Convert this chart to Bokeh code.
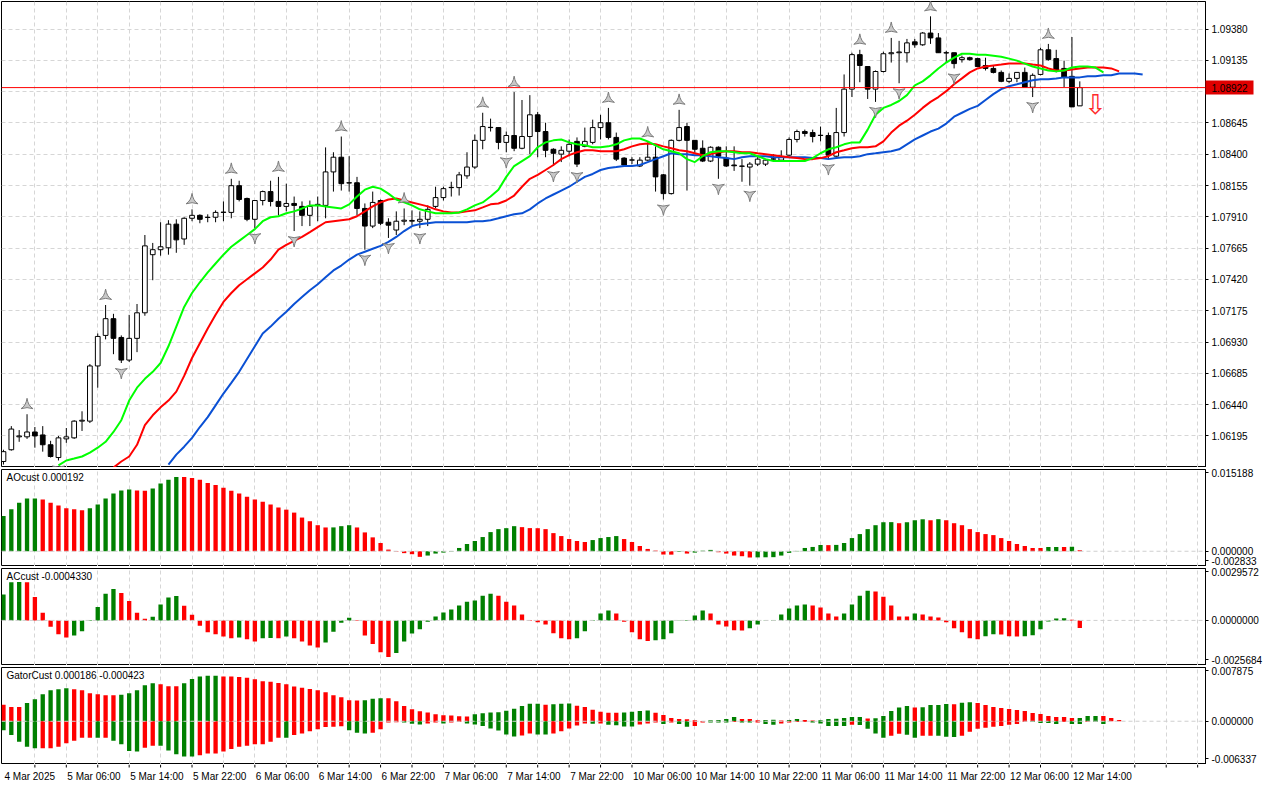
import numpy as np
from bokeh.plotting import figure
from bokeh.layouts import column
from bokeh.models import (Range1d, FixedTicker, Grid, Span,
                          CustomJSTickFormatter, PrintfTickFormatter)
from bokeh.core.properties import value
from bokeh.embed import file_html
from bokeh.resources import INLINE

# ---------------- price data (EURUSD H1) ----------------
OPEN = [1.05995, 1.06087, 1.06188, 1.06188, 1.06226, 1.06203, 1.06126, 1.06026, 1.06172, 1.06180,
        1.06311, 1.06311, 1.06743, 1.06982, 1.07113, 1.06966, 1.06789, 1.06959, 1.07159, 1.07614,
        1.07653, 1.07668, 1.07853, 1.07737, 1.07899, 1.07922, 1.07907, 1.07907, 1.07945, 1.07945,
        1.08154, 1.08054, 1.07891, 1.08038, 1.08108, 1.08031, 1.07992, 1.08015, 1.07992, 1.07922,
        1.08000, 1.08000, 1.08262, 1.08377, 1.08177, 1.08177, 1.07976, 1.07838, 1.08038, 1.07868,
        1.07807, 1.07876, 1.07876, 1.07876, 1.07891, 1.07992, 1.08061, 1.08139, 1.08139, 1.08231,
        1.08300, 1.08509, 1.08609, 1.08609, 1.08493, 1.08547, 1.08447, 1.08539, 1.08709, 1.08578,
        1.08439, 1.08401, 1.08424, 1.08501, 1.08462, 1.08493, 1.08609, 1.08647, 1.08532, 1.08370,
        1.08354, 1.08308, 1.08354, 1.08377, 1.08239, 1.08092, 1.08509, 1.08617, 1.08509, 1.08447,
        1.08347, 1.08455, 1.08370, 1.08316, 1.08308, 1.08300, 1.08323, 1.08323, 1.08362, 1.08354,
        1.08393, 1.08516, 1.08578, 1.08570, 1.08547, 1.08547, 1.08385, 1.08570, 1.08910, 1.09180,
        1.09087, 1.08910, 1.09048, 1.09187, 1.09195, 1.09195, 1.09280, 1.09257, 1.09349, 1.09311,
        1.09195, 1.09195, 1.09141, 1.09156, 1.09149, 1.09095, 1.09072, 1.09041, 1.08971, 1.08994,
        1.09041, 1.08925, 1.09025, 1.09218, 1.09149, 1.09072, 1.09010, 1.08779]
HIGH = [1.06087, 1.06272, 1.06241, 1.06365, 1.06265, 1.06272, 1.06157, 1.06195, 1.06257, 1.06318,
        1.06388, 1.06758, 1.06997, 1.07220, 1.07151, 1.06982, 1.07143, 1.07228, 1.07768, 1.07706,
        1.07868, 1.07884, 1.07891, 1.07907, 1.07969, 1.07930, 1.07930, 1.07961, 1.08031, 1.08208,
        1.08193, 1.08061, 1.08038, 1.08116, 1.08193, 1.08223, 1.08170, 1.08069, 1.08031, 1.08038,
        1.08069, 1.08454, 1.08416, 1.08539, 1.08385, 1.08223, 1.08015, 1.08108, 1.08046, 1.07899,
        1.07953, 1.07976, 1.07961, 1.07953, 1.08000, 1.08146, 1.08146, 1.08185, 1.08262, 1.08416,
        1.08555, 1.08725, 1.08679, 1.08609, 1.08578, 1.08887, 1.08825, 1.08863, 1.08732, 1.08647,
        1.08447, 1.08462, 1.08516, 1.08532, 1.08609, 1.08671, 1.08709, 1.08763, 1.08570, 1.08377,
        1.08377, 1.08377, 1.08493, 1.08462, 1.08246, 1.08516, 1.08748, 1.08647, 1.08509, 1.08509,
        1.08462, 1.08462, 1.08462, 1.08462, 1.08362, 1.08339, 1.08385, 1.08362, 1.08401, 1.08431,
        1.08532, 1.08593, 1.08593, 1.08593, 1.08617, 1.08570, 1.08763, 1.09025, 1.09195, 1.09218,
        1.09087, 1.09056, 1.09203, 1.09311, 1.09288, 1.09303, 1.09303, 1.09357, 1.09480, 1.09349,
        1.09210, 1.09195, 1.09172, 1.09164, 1.09156, 1.09156, 1.09095, 1.09056, 1.09033, 1.09041,
        1.09079, 1.09033, 1.09234, 1.09264, 1.09218, 1.09133, 1.09318, 1.08971]
LOW = [1.05971, 1.06080, 1.06149, 1.06172, 1.06103, 1.06072, 1.06026, 1.06003, 1.06141, 1.06172,
       1.06234, 1.06296, 1.06573, 1.06951, 1.06835, 1.06766, 1.06774, 1.06851, 1.07136, 1.07414,
       1.07606, 1.07614, 1.07629, 1.07691, 1.07876, 1.07860, 1.07868, 1.07868, 1.07876, 1.07899,
       1.08031, 1.07876, 1.07822, 1.08000, 1.07992, 1.07922, 1.07953, 1.07799, 1.07838, 1.07838,
       1.07876, 1.07899, 1.08108, 1.08116, 1.08108, 1.07922, 1.07653, 1.07822, 1.07845, 1.07745,
       1.07768, 1.07845, 1.07845, 1.07822, 1.07838, 1.07976, 1.08038, 1.08069, 1.08077, 1.08208,
       1.08285, 1.08439, 1.08578, 1.08439, 1.08416, 1.08424, 1.08439, 1.08401, 1.08377, 1.08377,
       1.08308, 1.08339, 1.08385, 1.08300, 1.08455, 1.08478, 1.08516, 1.08516, 1.08347, 1.08308,
       1.08323, 1.08300, 1.08347, 1.08108, 1.08046, 1.08085, 1.08501, 1.08116, 1.08401, 1.08339,
       1.08339, 1.08208, 1.08300, 1.08270, 1.08185, 1.08154, 1.08308, 1.08308, 1.08347, 1.08347,
       1.08385, 1.08493, 1.08539, 1.08493, 1.08501, 1.08362, 1.08377, 1.08539, 1.08848, 1.08964,
       1.08833, 1.08810, 1.09041, 1.09118, 1.08956, 1.09118, 1.09234, 1.09249, 1.09264, 1.09195,
       1.09118, 1.09072, 1.09118, 1.09133, 1.09087, 1.09056, 1.09033, 1.08964, 1.08956, 1.08964,
       1.08925, 1.08848, 1.09018, 1.09133, 1.09041, 1.08925, 1.08771, 1.08779]
CLOSE = [1.06072, 1.06249, 1.06195, 1.06226, 1.06195, 1.06126, 1.06034, 1.06180, 1.06188, 1.06311,
         1.06318, 1.06743, 1.06974, 1.07113, 1.06959, 1.06789, 1.06959, 1.07159, 1.07683, 1.07653,
         1.07676, 1.07853, 1.07730, 1.07899, 1.07922, 1.07891, 1.07905, 1.07945, 1.07947, 1.08154,
         1.08046, 1.07891, 1.08038, 1.08108, 1.08031, 1.07992, 1.08015, 1.08000, 1.07922, 1.07992,
         1.08008, 1.08262, 1.08377, 1.08170, 1.08175, 1.07976, 1.07838, 1.08023, 1.07860, 1.07845,
         1.07876, 1.07884, 1.07882, 1.07891, 1.07969, 1.08061, 1.08131, 1.08141, 1.08239, 1.08300,
         1.08509, 1.08617, 1.08611, 1.08493, 1.08547, 1.08447, 1.08539, 1.08709, 1.08578, 1.08431,
         1.08408, 1.08431, 1.08478, 1.08323, 1.08501, 1.08609, 1.08647, 1.08532, 1.08362, 1.08316,
         1.08356, 1.08354, 1.08377, 1.08223, 1.08092, 1.08509, 1.08609, 1.08509, 1.08439, 1.08347,
         1.08455, 1.08385, 1.08308, 1.08310, 1.08306, 1.08323, 1.08362, 1.08354, 1.08364, 1.08377,
         1.08516, 1.08578, 1.08563, 1.08539, 1.08549, 1.08393, 1.08570, 1.08910, 1.09180, 1.09095,
         1.08910, 1.09048, 1.09187, 1.09195, 1.09201, 1.09272, 1.09257, 1.09349, 1.09311, 1.09195,
         1.09193, 1.09110, 1.09156, 1.09141, 1.09087, 1.09072, 1.09041, 1.08971, 1.08994, 1.09041,
         1.08925, 1.09018, 1.09218, 1.09141, 1.09056, 1.09002, 1.08771, 1.08922]

# Alligator lines (already shifted forward: jaw 8, teeth 5, lips 3 bars)
JAW_START = 21
JAW = [1.05971, 1.06049, 1.06111, 1.06180, 1.06265, 1.06342, 1.06434, 1.06527, 1.06611, 1.06697,
       1.06797, 1.06897, 1.06997, 1.07051, 1.07113, 1.07167, 1.07228, 1.07282, 1.07336, 1.07383,
       1.07437, 1.07491, 1.07529, 1.07576, 1.07614, 1.07637, 1.07660, 1.07683, 1.07714, 1.07753,
       1.07799, 1.07838, 1.07853, 1.07860, 1.07868, 1.07868, 1.07868, 1.07868, 1.07868, 1.07876,
       1.07876, 1.07884, 1.07899, 1.07915, 1.07930, 1.07938, 1.07969, 1.08015, 1.08054, 1.08085,
       1.08116, 1.08146, 1.08185, 1.08223, 1.08246, 1.08277, 1.08293, 1.08300, 1.08308, 1.08308,
       1.08316, 1.08339, 1.08362, 1.08385, 1.08408, 1.08401, 1.08401, 1.08393, 1.08393, 1.08385,
       1.08377, 1.08370, 1.08362, 1.08377, 1.08385, 1.08385, 1.08385, 1.08377, 1.08377, 1.08377,
       1.08377, 1.08377, 1.08370, 1.08370, 1.08362, 1.08370, 1.08377, 1.08377, 1.08385, 1.08401,
       1.08408, 1.08416, 1.08424, 1.08439, 1.08478, 1.08516, 1.08547, 1.08578, 1.08601, 1.08640,
       1.08694, 1.08725, 1.08755, 1.08779, 1.08825, 1.08871, 1.08910, 1.08933, 1.08948, 1.08964,
       1.08979, 1.08987, 1.08987, 1.08994, 1.09002, 1.09002, 1.09002, 1.09010, 1.09010, 1.09018,
       1.09018, 1.09033, 1.09033, 1.09033, 1.09025]
TEETH_START = 14
TEETH = [1.05948, 1.05995, 1.06034, 1.06126, 1.06280, 1.06357, 1.06419, 1.06472, 1.06542, 1.06665,
         1.06805, 1.06920, 1.07036, 1.07143, 1.07244, 1.07314, 1.07375, 1.07422, 1.07468, 1.07514,
         1.07576, 1.07653, 1.07691, 1.07722, 1.07753, 1.07791, 1.07830, 1.07868, 1.07876, 1.07884,
         1.07891, 1.07915, 1.07953, 1.07992, 1.08023, 1.08046, 1.08054, 1.08038, 1.08023, 1.08008,
         1.07992, 1.07969, 1.07953, 1.07945, 1.07945, 1.07953, 1.07961, 1.07984, 1.08008, 1.08015,
         1.08038, 1.08077, 1.08146, 1.08208, 1.08239, 1.08277, 1.08316, 1.08362, 1.08393, 1.08416,
         1.08431, 1.08431, 1.08424, 1.08424, 1.08424, 1.08439, 1.08462, 1.08478, 1.08485, 1.08478,
         1.08462, 1.08447, 1.08431, 1.08424, 1.08408, 1.08393, 1.08401, 1.08416, 1.08424, 1.08424,
         1.08416, 1.08416, 1.08408, 1.08401, 1.08393, 1.08385, 1.08377, 1.08370, 1.08362, 1.08362,
         1.08370, 1.08385, 1.08416, 1.08431, 1.08447, 1.08455, 1.08455, 1.08462, 1.08501, 1.08570,
         1.08624, 1.08663, 1.08709, 1.08763, 1.08810, 1.08848, 1.08894, 1.08948, 1.08994, 1.09041,
         1.09072, 1.09087, 1.09095, 1.09102, 1.09110, 1.09110, 1.09110, 1.09102, 1.09095, 1.09072,
         1.09056, 1.09056, 1.09064, 1.09072, 1.09079, 1.09079, 1.09079, 1.09072, 1.09049]
LIPS_START = 7
LIPS = [1.05964, 1.06003, 1.06018, 1.06034, 1.06064, 1.06103, 1.06149, 1.06226, 1.06318, 1.06472,
        1.06573, 1.06642, 1.06697, 1.06766, 1.06897, 1.07051, 1.07205, 1.07314, 1.07398, 1.07475,
        1.07545, 1.07614, 1.07676, 1.07722, 1.07768, 1.07814, 1.07876, 1.07907, 1.07915, 1.07938,
        1.07953, 1.07976, 1.08000, 1.08000, 1.07992, 1.07984, 1.07976, 1.08008, 1.08069, 1.08123,
        1.08146, 1.08131, 1.08092, 1.08046, 1.08023, 1.08000, 1.07969, 1.07953, 1.07938, 1.07938,
        1.07938, 1.07945, 1.07969, 1.08000, 1.08023, 1.08069, 1.08123, 1.08223, 1.08308, 1.08347,
        1.08385, 1.08455, 1.08493, 1.08509, 1.08516, 1.08493, 1.08478, 1.08470, 1.08455, 1.08455,
        1.08462, 1.08478, 1.08509, 1.08524, 1.08524, 1.08501, 1.08470, 1.08439, 1.08424, 1.08408,
        1.08362, 1.08339, 1.08385, 1.08416, 1.08424, 1.08424, 1.08416, 1.08408, 1.08408, 1.08385,
        1.08362, 1.08347, 1.08347, 1.08347, 1.08347, 1.08347, 1.08370, 1.08408, 1.08439, 1.08455,
        1.08478, 1.08493, 1.08493, 1.08593, 1.08709, 1.08763, 1.08786, 1.08817, 1.08863, 1.08940,
        1.08971, 1.09018, 1.09072, 1.09118, 1.09156, 1.09187, 1.09187, 1.09180, 1.09180, 1.09172,
        1.09164, 1.09149, 1.09133, 1.09110, 1.09087, 1.09072, 1.09056, 1.09049, 1.09056, 1.09079,
        1.09087, 1.09087, 1.09079, 1.09041]

FRACTAL_UP = [3, 13, 24, 29, 35, 43, 51, 61, 65, 77, 82, 86, 109, 113, 118, 133]
FRACTAL_DOWN = [7, 15, 32, 37, 46, 49, 53, 64, 70, 73, 84, 91, 95, 105, 111, 114, 121, 131]
LAST_PRICE = 1.08922
SELL_SIGNAL_X = 139
SELL_SIGNAL_Y = 1.08910
PRICE_TICKS = [1.06195, 1.06440, 1.06685, 1.06930, 1.07175, 1.07420, 1.07665,
               1.07910, 1.08155, 1.08400, 1.08645, 1.08890, 1.09135, 1.09380]
PRICE_MIN, PRICE_MAX = 1.05948, 1.09596

# ---------------- AO ----------------
AO = [0.00657, 0.00778, 0.00902, 0.00981, 0.00982, 0.00962, 0.00902, 0.00852, 0.00797, 0.00778,
      0.00760, 0.00797, 0.00870, 0.00981, 0.01073, 0.01128, 0.01146, 0.01128, 0.01126, 0.01165,
      0.01257, 0.01330, 0.01380, 0.01378, 0.01362, 0.01330, 0.01270, 0.01233, 0.01178, 0.01122,
      0.01073, 0.01012, 0.00962, 0.00920, 0.00870, 0.00815, 0.00773, 0.00718, 0.00626, 0.00558,
      0.00484, 0.00442, 0.00443, 0.00466, 0.00484, 0.00442, 0.00350, 0.00258, 0.00153, 0.00031,
      -0.00008, -0.00035, -0.00055, -0.00104, -0.00080, -0.00043, -0.00025, -0.00008, 0.00061, 0.00135,
      0.00190, 0.00264, 0.00356, 0.00411, 0.00429, 0.00466, 0.00448, 0.00430, 0.00428, 0.00411,
      0.00337, 0.00282, 0.00227, 0.00190, 0.00172, 0.00208, 0.00245, 0.00264, 0.00282, 0.00227,
      0.00172, 0.00098, 0.00043, 0.00012, -0.00061, -0.00063, -0.00010, -0.00043, -0.00025, 0.00010,
      0.00025, -0.00018, -0.00043, -0.00080, -0.00092, -0.00116, -0.00114, -0.00112, -0.00110, -0.00080,
      -0.00030, 0.00006, 0.00061, 0.00080, 0.00116, 0.00114, 0.00118, 0.00153, 0.00245, 0.00319,
      0.00411, 0.00484, 0.00539, 0.00541, 0.00521, 0.00539, 0.00576, 0.00594, 0.00576, 0.00596,
      0.00576, 0.00521, 0.00484, 0.00411, 0.00356, 0.00319, 0.00300, 0.00245, 0.00190, 0.00135,
      0.00098, 0.00061, 0.00060, 0.00080, 0.00081, 0.00079, 0.00082, 0.00019]
AO_COLOR = ("ggggg" "rrrrrr" "gggggg" "rr" "gggg" "rrrrrrrrrrrrrrrrrrr" "ggg" "rrrrrrrrr"
            "gggggggggggg" "rrrrrrrrr" "gggg" "rrrrrrr" "g" "r" "ggg" "rrrrr" "ggggggggg" "r"
            "gggggggg" "r" "ggg" "r" "g" "rrrrrrrrrrrrr" "gg" "r" "g" "r")
AO_MIN, AO_MAX = -0.002833, 0.015188
AO_LABELS = ("0.015188", "0.000000", "-0.002833")
AO_TITLE = "AOcust 0.000192"

# ---------------- AC ----------------
AC = [0.00147, 0.00218, 0.00219, 0.00217, 0.00134, 0.00043, -0.00036, -0.00079, -0.00098, -0.00086,
      -0.00062, 0.00003, 0.00077, 0.00152, 0.00179, 0.00156, 0.00111, 0.00043, 0.00010, 0.00021,
      0.00090, 0.00130, 0.00139, 0.00083, 0.00032, -0.00030, -0.00068, -0.00079, -0.00092, -0.00101,
      -0.00098, -0.00107, -0.00120, -0.00101, -0.00100, -0.00102, -0.00092, -0.00101, -0.00120, -0.00143,
      -0.00154, -0.00126, -0.00064, -0.00013, 0.00015, -0.00004, -0.00086, -0.00135, -0.00182, -0.00209,
      -0.00186, -0.00120, -0.00075, -0.00051, -0.00008, 0.00023, 0.00045, 0.00062, 0.00085, 0.00107,
      0.00113, 0.00141, 0.00152, 0.00141, 0.00107, 0.00085, 0.00034, -0.00003, -0.00010, -0.00023,
      -0.00073, -0.00101, -0.00107, -0.00101, -0.00062, 0.00002, 0.00039, 0.00056, 0.00039, -0.00008,
      -0.00068, -0.00107, -0.00117, -0.00113, -0.00107, -0.00073, -0.00002, 0.00002, 0.00028, 0.00056,
      0.00039, -0.00023, -0.00034, -0.00056, -0.00057, -0.00045, -0.00023, 0.00001, 0.00003, 0.00034,
      0.00068, 0.00085, 0.00090, 0.00085, 0.00073, 0.00039, 0.00023, 0.00039, 0.00090, 0.00141,
      0.00169, 0.00164, 0.00135, 0.00085, 0.00023, 0.00022, 0.00039, 0.00034, 0.00023, 0.00017,
      -0.00011, -0.00045, -0.00068, -0.00101, -0.00107, -0.00090, -0.00079, -0.00080, -0.00090, -0.00091,
      -0.00090, -0.00085, -0.00051, -0.00006, 0.00011, 0.00012, 0.00004, -0.00043]
AC_COLOR = ("ggg" "rrrrrr" "gggggg" "rrrr" "gggg" "rrrrrrr" "g" "rr" "gg" "r" "g" "rrrr" "gggg"
            "rrrrr" "ggggggggggggg" "rrrrrrrrrr" "ggggg" "rrrrr" "ggggggg" "rrrrr" "gggggggg"
            "rrrr" "gggg" "rrrrr" "g" "rrrrrrrr" "gg" "rrr" "gggggg" "rr")
AC_MIN, AC_MAX = -0.0025684, 0.0029572
AC_LABELS = ("0.0029572", "0.0000000", "-0.0025684")
AC_TITLE = "ACcust -0.0004330"

# ---------------- Gator ----------------
GATOR_UP = [0.00242, 0.00208, 0.00207, 0.00266, 0.00324, 0.00396, 0.00454, 0.00469, 0.00483, 0.00469,
            0.00454, 0.00411, 0.00396, 0.00382, 0.00381, 0.00387, 0.00411, 0.00454, 0.00527, 0.00556,
            0.00541, 0.00512, 0.00511, 0.00556, 0.00619, 0.00657, 0.00667, 0.00668, 0.00657, 0.00656,
            0.00648, 0.00638, 0.00614, 0.00585, 0.00580, 0.00561, 0.00541, 0.00508, 0.00489, 0.00474,
            0.00454, 0.00425, 0.00382, 0.00353, 0.00309, 0.00305, 0.00309, 0.00329, 0.00338, 0.00337,
            0.00294, 0.00225, 0.00176, 0.00145, 0.00130, 0.00102, 0.00087, 0.00086, 0.00072, 0.00071,
            0.00102, 0.00116, 0.00130, 0.00131, 0.00155, 0.00184, 0.00222, 0.00257, 0.00258, 0.00242,
            0.00250, 0.00258, 0.00259, 0.00227, 0.00208, 0.00169, 0.00140, 0.00126, 0.00125, 0.00127,
            0.00140, 0.00150, 0.00156, 0.00126, 0.00092, 0.00048, 0.00034, 0.00029, 0.00015, 0.00005,
            0.00015, 0.00019, 0.00034, 0.00063, 0.00034, 0.00033, 0.00015, 0.00020, 0.00022, 0.00010,
            0.00019, 0.00034, 0.00019, 0.00010, 0.00015, 0.00034, 0.00035, 0.00048, 0.00063, 0.00064,
            0.00040, 0.00044, 0.00077, 0.00150, 0.00203, 0.00222, 0.00203, 0.00204, 0.00237, 0.00238,
            0.00251, 0.00250, 0.00271, 0.00280, 0.00266, 0.00237, 0.00208, 0.00193, 0.00179, 0.00164,
            0.00150, 0.00121, 0.00106, 0.00077, 0.00063, 0.00062, 0.00048, 0.00049, 0.00077, 0.00078,
            0.00077, 0.00048, 0.00019]
GATOR_UP_COLOR = ("rrr" "gggggg" "rrrrrr" "ggggg" "rrr" "ggggg" "rrrrrrrrrrrrrrrrrr" "ggg"
                  "rrrrrrrrrrr" "ggggggggg" "r" "ggg" "rrrrrr" "gggg" "rrrrrrr" "gggg" "rrr" "gg"
                  "r" "gg" "rr" "gggggg" "r" "ggggg" "r" "gggg" "r" "gg" "rrrrrrrrrrrrr" "ggg" "rrr")
GATOR_DN = [-0.00131, -0.00203, -0.00300, -0.00372, -0.00396, -0.00395, -0.00394, -0.00372, -0.00324, -0.00285,
            -0.00242, -0.00241, -0.00243, -0.00242, -0.00285, -0.00338, -0.00435, -0.00445, -0.00387, -0.00358,
            -0.00359, -0.00430, -0.00483, -0.00517, -0.00518, -0.00498, -0.00474, -0.00473, -0.00445, -0.00406,
            -0.00372, -0.00358, -0.00338, -0.00337, -0.00300, -0.00242, -0.00243, -0.00203, -0.00179, -0.00145,
            -0.00116, -0.00083, -0.00082, -0.00073, -0.00131, -0.00170, -0.00179, -0.00170, -0.00116, -0.00019,
            -0.00015, -0.00019, -0.00036, -0.00048, -0.00033, -0.00019, -0.00034, -0.00019, -0.00010, -0.00034,
            -0.00048, -0.00068, -0.00106, -0.00135, -0.00193, -0.00222, -0.00207, -0.00179, -0.00193, -0.00194,
            -0.00179, -0.00145, -0.00106, -0.00063, -0.00034, -0.00036, -0.00033, -0.00050, -0.00058, -0.00077,
            -0.00078, -0.00048, -0.00034, -0.00019, -0.00039, -0.00019, -0.00039, -0.00082, -0.00068, -0.00019,
            -0.00019, -0.00020, -0.00020, -0.00010, -0.00019, -0.00020, -0.00019, -0.00039, -0.00053, -0.00034,
            -0.00019, -0.00010, -0.00010, -0.00019, -0.00034, -0.00068, -0.00068, -0.00069, -0.00053, -0.00054,
            -0.00111, -0.00179, -0.00242, -0.00213, -0.00184, -0.00198, -0.00242, -0.00213, -0.00212, -0.00213,
            -0.00228, -0.00229, -0.00213, -0.00155, -0.00111, -0.00097, -0.00082, -0.00068, -0.00053, -0.00039,
            -0.00010, -0.00011, -0.00024, -0.00025, -0.00039, -0.00010, -0.00040, -0.00041, -0.00010, -0.00012,
            -0.00040, 0.0, 0.0]
GATOR_DN_COLOR = ("ggggg" "rrrrrrr" "g" "r" "gggg" "rr" "ggggg" "rrrrrrrrrrr" "g" "rrrrrrr" "ggg"
                  "rrrr" "ggg" "rr" "g" "rr" "ggggggg" "rr" "gg" "rrrrr" "g" "r" "gggg" "rrr" "g" "r"
                  "gg" "rr" "ggg" "r" "gg" "r" "gg" "rrrr" "ggggg" "r" "gggg" "rr" "gg" "rr" "ggg"
                  "rrrrrrrrr" "gggg" "r" "gg" "r" "gg" "rr")
GATOR_MIN, GATOR_MAX = -0.006337, 0.007875
GATOR_LABELS = ("0.007875", "0.000000", "-0.006337")
GATOR_TITLE = "GatorCust 0.000186 -0.000423"

TIME_LABELS = ["4 Mar 2025", "5 Mar 06:00", "5 Mar 14:00", "5 Mar 22:00", "6 Mar 06:00",
               "6 Mar 14:00", "6 Mar 22:00", "7 Mar 06:00", "7 Mar 14:00", "7 Mar 22:00",
               "10 Mar 06:00", "10 Mar 14:00", "10 Mar 22:00", "11 Mar 06:00", "11 Mar 14:00",
               "11 Mar 22:00", "12 Mar 06:00", "12 Mar 14:00"]
TIME_LABEL_STEP = 8
GRID_STEP = 4

# ---------------- styling ----------------
FONT = "Liberation Sans"
FS = "10px"
FW = 1204
BORDER_R = 58
GREEN, RED = "#008000", "#ff0000"
GRID_COLOR = "#d6d6d6"
XR = Range1d(-0.25, 153.0)
PX_X = (XR.end - XR.start) / FW
GRID_X = list(range(GRID_STEP, int(XR.end) + 1, GRID_STEP))
CMAP = {"g": GREEN, "r": RED}


def make_panel(height, ymin, ymax, top=2):
    p = figure(frame_width=FW, frame_height=height, x_range=XR, y_range=Range1d(ymin, ymax),
               x_axis_location=None, y_axis_location="right", output_backend="svg",
               toolbar_location=None, min_border_left=1, min_border_right=BORDER_R,
               min_border_top=top, min_border_bottom=0)
    p.outline_line_color = "black"
    p.outline_line_width = 1
    p.xgrid.grid_line_color = None
    p.ygrid.grid_line_color = None
    p.add_layout(Grid(dimension=0, ticker=FixedTicker(ticks=GRID_X),
                      grid_line_color=GRID_COLOR, grid_line_dash="4 3"))
    ax = p.yaxis[0]
    ax.major_tick_out = 3
    ax.major_tick_in = 0
    ax.minor_tick_out = 0
    ax.minor_tick_in = 0
    ax.axis_line_color = "black"
    ax.major_tick_line_color = "black"
    ax.major_label_text_font = FONT
    ax.major_label_text_font_size = FS
    ax.major_label_text_color = "black"
    ax.major_label_standoff = 3
    return p


def sub_panel(ymin, ymax, labels, title, height=97):
    p = make_panel(height, ymin, ymax)
    ppu = (ymax - ymin) / height
    p.yaxis.ticker = FixedTicker(ticks=[ymin + 6 * ppu, 0.0, ymax - 3 * ppu])
    p.yaxis.formatter = CustomJSTickFormatter(
        args=dict(hi=labels[0], mid=labels[1], lo=labels[2]),
        code="return tick > 1e-12 ? hi : (tick < -1e-12 ? lo : mid);")
    p.text(x=[XR.start + 5 * PX_X], y=[ymax - 2 * ppu], text=[title], text_align="left",
           text_baseline="top", text_font=value(FONT), text_font_size=FS, text_color="black",
           level="overlay")
    return p


def zero_line(p):
    p.add_layout(Span(location=0, dimension="width", line_color="#cfcfcf",
                      line_dash="4 3", line_width=1, level="overlay"))


# ---------------- main price panel ----------------
MAIN_H = 466
TAG_LEN = 48
main = make_panel(MAIN_H, PRICE_MIN, PRICE_MAX, top=1)
# price scale: regular ticks plus the current price, whose (minor) tick is drawn as a red tag
axis_ticks = [t for t in PRICE_TICKS if abs(t - LAST_PRICE) > 0.0005] + [LAST_PRICE]
main.yaxis.ticker = FixedTicker(ticks=sorted(axis_ticks), minor_ticks=[LAST_PRICE])
main.yaxis.formatter = PrintfTickFormatter(format="%.5f")
main.yaxis.minor_tick_out = TAG_LEN
main.yaxis.minor_tick_in = 0
main.yaxis.minor_tick_line_color = "#e00000"
main.yaxis.minor_tick_line_width = 14
main.yaxis.major_label_standoff = 6 - TAG_LEN
main.ygrid.ticker = FixedTicker(ticks=PRICE_TICKS)
main.ygrid.grid_line_color = GRID_COLOR
main.ygrid.grid_line_dash = "4 3"

o, h, l, c = (np.array(a) for a in (OPEN, HIGH, LOW, CLOSE))
idx = np.arange(len(o))
main.segment(x0=idx, y0=l, x1=idx, y1=h, line_color="black", line_width=1)
main.vbar(x=idx, width=0.6, top=np.maximum(o, c), bottom=np.minimum(o, c),
          fill_color=["white" if cc >= oo else "black" for oo, cc in zip(o, c)],
          line_color="black", line_width=1)

main.add_layout(Span(location=LAST_PRICE, dimension="width", line_color="#ff0000", line_width=1))

main.line(x=np.arange(JAW_START, JAW_START + len(JAW)), y=JAW, line_color="#0a50d4", line_width=2)
main.line(x=np.arange(TEETH_START, TEETH_START + len(TEETH)), y=TEETH, line_color="#ff0000", line_width=2)
main.line(x=np.arange(LIPS_START, LIPS_START + len(LIPS)), y=LIPS, line_color="#00ff00", line_width=2)

off = 9 * (PRICE_MAX - PRICE_MIN) / MAIN_H
main.scatter(x=FRACTAL_UP, y=[HIGH[i] + off for i in FRACTAL_UP], marker="triangle_pin", size=12,
             fill_color="#c8c8c8", line_color="#7c7c7c", line_width=1)
main.scatter(x=FRACTAL_DOWN, y=[LOW[i] - off for i in FRACTAL_DOWN], marker="triangle_pin", size=12,
             angle=np.pi, fill_color="#c8c8c8", line_color="#7c7c7c", line_width=1)

main.text(x=[SELL_SIGNAL_X], y=[SELL_SIGNAL_Y], text=["\u21e9"], text_color="#ff2a2a",
          text_font=value("DejaVu Sans"), text_font_size="27px", text_align="center",
          text_baseline="top")

# ---------------- AO ----------------
ao = sub_panel(AO_MIN, AO_MAX, AO_LABELS, AO_TITLE)
ao.vbar(x=np.arange(len(AO)), width=0.55, top=AO, bottom=0,
        fill_color=[CMAP[k] for k in AO_COLOR], line_color=None)
zero_line(ao)

# ---------------- AC ----------------
ac = sub_panel(AC_MIN, AC_MAX, AC_LABELS, AC_TITLE)
ac.vbar(x=np.arange(len(AC)), width=0.55, top=AC, bottom=0,
        fill_color=[CMAP[k] for k in AC_COLOR], line_color=None)
zero_line(ac)

# ---------------- Gator ----------------
gt = sub_panel(GATOR_MIN, GATOR_MAX, GATOR_LABELS, GATOR_TITLE)
gt.vbar(x=np.arange(len(GATOR_UP)), width=0.55, top=GATOR_UP, bottom=0,
        fill_color=[CMAP[k] for k in GATOR_UP_COLOR], line_color=None)
gt.vbar(x=np.arange(len(GATOR_DN)), width=0.55, top=0, bottom=GATOR_DN,
        fill_color=[CMAP[k] for k in GATOR_DN_COLOR], line_color=None)
zero_line(gt)

# ---------------- time axis strip ----------------
strip = figure(frame_width=FW, frame_height=20, x_range=XR, y_range=Range1d(0, 1),
               x_axis_location=None, y_axis_location=None, output_backend="svg",
               toolbar_location=None, min_border_left=1, min_border_right=BORDER_R,
               min_border_top=0, min_border_bottom=0)
strip.outline_line_color = None
strip.xgrid.grid_line_color = None
strip.ygrid.grid_line_color = None
label_x = [k * TIME_LABEL_STEP for k in range(len(TIME_LABELS))]
strip.text(x=label_x, y=[0.42] * len(label_x), text=TIME_LABELS, text_align="left",
           text_baseline="middle", x_offset=1, text_font=value(FONT), text_font_size=FS,
           text_color="black")
strip.segment(x0=GRID_X, y0=[1.0] * len(GRID_X), x1=GRID_X, y1=[0.85] * len(GRID_X),
              line_color="black", line_width=1)

layout = column(main, ao, ac, gt, strip, spacing=0)
open("out.html", "w").write(file_html(layout, INLINE))
